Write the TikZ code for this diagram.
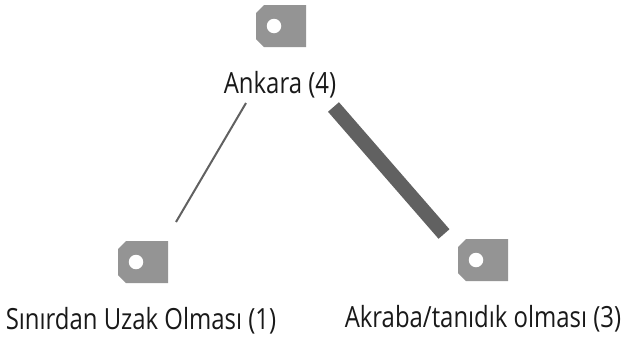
\documentclass[tikz,border=0pt]{standalone}
\usepackage{fontspec}
\setmainfont{Open Sans}
\usetikzlibrary{calc}
\newcommand{\lbl}[1]{\scalebox{0.82}[1]{#1}}
\tikzset{
    lbltext/.style={inner sep=0pt, text=black!90, font=\fontsize{16.6}{20}\selectfont},
    taghole/.style={circle, fill=white, minimum size=0.29cm, inner sep=0pt},
    tag/.pic={
        \fill[black!42] (25, 21) -- (-17, 21) -- (-25, 13) -- (-25, -13) -- (-17, -21) -- (25, -21) -- cycle;
        \node[taghole] (-hole) at (-7, 0) {};
    }
}

\begin{document}
\begin{tikzpicture}[x=0.02cm, y=-0.02cm]
    \useasboundingbox (0, 0) rectangle (622, 342);

    \fill[white] (0, 0) rectangle (622, 342);

    \pic (top) at (281, 26) {tag};
    \pic (left) at (143, 262) {tag};
    \pic (right) at (483, 260) {tag};

    \node[lbltext] (ankara) at (280, 85) {\lbl{Ankara (4)}};
    \node[lbltext] (sinir) at (141, 321) {\lbl{Sınırdan Uzak Olması (1)}};
    \node[lbltext] (akraba) at (483, 319) {\lbl{Akraba/tanıdık olması (3)}};

    \coordinate (thinstart) at (246, 103);
    \coordinate (thinend) at (176, 222);
    \coordinate (thickstart) at (333.5, 107);
    \coordinate (thickend) at (444, 234);

    \draw[black!62, line width=0.04cm] (thinstart) -- (thinend);
    \draw[black!62, line width=0.29cm] (thickstart) -- (thickend);
\end{tikzpicture}
\end{document}
